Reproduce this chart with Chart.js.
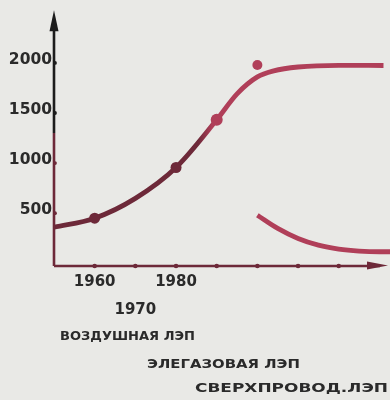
<!DOCTYPE html>
<html><head><meta charset="utf-8">
<script src="https://cdn.jsdelivr.net/npm/chart.js@4.4.1/dist/chart.umd.min.js"></script>
<style>
html,body{margin:0;padding:0;background:#e9e9e6;}
#wrap{position:relative;width:390px;height:400px;}
canvas{display:block;}
</style></head><body>
<div id="wrap"><canvas id="c" width="390" height="400"></canvas></div>
<script>
// ---- data ----
const airYears   = [1950, 1960, 1970, 1980, 1990, 1995, 2000, 2004, 2010, 2020, 2031];
const airValues  = [360,  450,  648,  956,  1432, 1691, 1860, 1920, 1959, 1976, 1974];
const airMarkedYears = [1960, 1980, 1990];
const gasYears   = [2000];
const gasValues  = [1979];
const superYears  = [2000, 2005, 2010, 2015, 2020, 2025, 2030, 2033];
const superValues = [480,  348,  248,  181,  142,  122,  115,  115];
const xTickYears = [1960, 1970, 1980, 1990, 2000, 2010, 2020];
const xUpperLabelYears = [1960, 1980];
const xLowerLabelYears = [1970];
const yTicks = [500, 1000, 1500, 2000];
const seriesNames = ['ВОЗДУШНАЯ ЛЭП', 'ЭЛЕГАЗОВАЯ ЛЭП', 'СВЕРХПРОВОД.ЛЭП'];

const MAROON = '#6d2939';
const CRIMSON = '#b03f59';
const INK = '#2a2a2a';

function toPts(xs, ys){ return xs.map((x,i)=>({x:x, y:ys[i]})); }

const axesPlugin = {
  id: 'axesPlugin',
  afterDatasetsDraw(chart){
    const ctx = chart.ctx, a = chart.chartArea;
    const xs = chart.scales.x, ys = chart.scales.y;
    const x0 = a.left, y0 = a.bottom;
    ctx.save();
    ctx.lineCap = 'butt';
    const split = 133;
    ctx.lineWidth = 2.6;
    ctx.strokeStyle = MAROON;
    ctx.beginPath(); ctx.moveTo(x0, y0); ctx.lineTo(x0, split); ctx.stroke();
    ctx.strokeStyle = '#1c1c1c';
    ctx.beginPath(); ctx.moveTo(x0, split); ctx.lineTo(x0, a.top + 8); ctx.stroke();
    ctx.fillStyle = '#1c1c1c';
    ctx.beginPath(); ctx.moveTo(x0, a.top - 1); ctx.lineTo(x0 + 4.5, a.top + 20); ctx.lineTo(x0 - 4.5, a.top + 20); ctx.closePath(); ctx.fill();
    yTicks.forEach(v => {
      const py = ys.getPixelForValue(v);
      ctx.fillStyle = py < split ? '#1c1c1c' : MAROON;
      ctx.beginPath(); ctx.arc(x0 + 1, py, 1.9, 0, Math.PI*2); ctx.fill();
    });
    ctx.strokeStyle = MAROON; ctx.fillStyle = MAROON;
    ctx.lineWidth = 2.6;
    ctx.beginPath(); ctx.moveTo(x0, y0); ctx.lineTo(a.right - 10, y0); ctx.stroke();
    ctx.beginPath(); ctx.moveTo(a.right - 2, y0 - 0.5); ctx.lineTo(a.right - 23, y0 - 4.5); ctx.lineTo(a.right - 23, y0 + 3.5); ctx.closePath(); ctx.fill();
    xTickYears.forEach(t => {
      const px = xs.getPixelForValue(t);
      ctx.beginPath(); ctx.arc(px, y0, 2.3, 0, Math.PI*2); ctx.fill();
    });
    // captions, stretched horizontally to the measured widths
    const caps = [
      {x: 60,  y: 337, w: 135},
      {x: 147, y: 364.5, w: 153},
      {x: 195, y: 389, w: 193}
    ];
    ctx.fillStyle = INK;
    ctx.textBaseline = 'middle';
    ctx.textAlign = 'left';
    ctx.font = 'bold 13px "DejaVu Sans"';
    seriesNames.forEach((s, i) => {
      const c = caps[i];
      const w = ctx.measureText(s).width;
      const sx = c.w / w;
      ctx.save();
      ctx.translate(c.x, c.y);
      ctx.scale(sx, 1);
      ctx.fillText(s, 0, 0);
      ctx.restore();
    });
    ctx.restore();
  }
};

function airColor(context){
  const chart = context.chart;
  const a = chart.chartArea;
  if (!a) return MAROON;
  const g = chart.ctx.createLinearGradient(a.left, 0, a.right, 0);
  const t1 = (198 - a.left) / (a.right - a.left);
  const t2 = (212 - a.left) / (a.right - a.left);
  g.addColorStop(0, MAROON);
  g.addColorStop(t1, MAROON);
  g.addColorStop(t2, CRIMSON);
  g.addColorStop(1, CRIMSON);
  return g;
}

new Chart(document.getElementById('c'), {
  type: 'line',
  data: {
    datasets: [
      {
        label: seriesNames[0],
        data: toPts(airYears, airValues),
        borderColor: airColor,
        borderWidth: 4.8,
        cubicInterpolationMode: 'monotone',
        pointRadius: ctx => airMarkedYears.includes(ctx.raw && ctx.raw.x) ? (ctx.raw.x === 1990 ? 6 : 5.5) : 0,
        pointBackgroundColor: ctx => (ctx.raw && ctx.raw.x >= 1990) ? CRIMSON : MAROON,
        pointBorderWidth: 0,
        fill: false
      },
      {
        label: seriesNames[1],
        type: 'scatter',
        data: toPts(gasYears, gasValues),
        pointRadius: 5,
        pointBackgroundColor: CRIMSON,
        pointBorderWidth: 0,
        showLine: false
      },
      {
        label: seriesNames[2],
        data: toPts(superYears, superValues),
        borderColor: CRIMSON,
        borderWidth: 4.8,
        cubicInterpolationMode: 'monotone',
        pointRadius: 0,
        fill: false
      }
    ]
  },
  options: {
    responsive: false,
    devicePixelRatio: 1,
    animation: false,
    layout: { autoPadding: false, padding: { top: 10, right: 0, left: 0, bottom: 0 } },
    plugins: { legend: { display: false }, tooltip: { enabled: false } },
    scales: {
      x: {
        type: 'linear',
        min: 1950, max: 2032.6,
        afterFit: s => { s.height = 134; },
        afterBuildTicks: s => { s.ticks = xUpperLabelYears.concat(xLowerLabelYears).map(v => ({value: v})); },
        grid: { display: false, drawTicks: false },
        border: { display: false },
        ticks: {
          autoSkip: false, maxRotation: 0, padding: 2.5,
          color: INK,
          font: { family: '"DejaVu Sans"', weight: 'bold', size: 15, lineHeight: '28px' },
          callback: v => xLowerLabelYears.includes(v) ? ['', String(v)] : String(v)
        }
      },
      y: {
        min: -27, max: 2515,
        afterFit: s => { s.width = 54; },
        afterBuildTicks: s => { s.ticks = yTicks.map(v => ({value: v})); },
        grid: { display: false, drawTicks: false },
        border: { display: false },
        ticks: {
          padding: 2, labelOffset: -3,
          color: INK,
          font: { family: '"DejaVu Sans"', weight: 'bold', size: 15.5 },
          callback: v => String(v)
        }
      }
    }
  },
  plugins: [axesPlugin]
});
</script>
</body></html>
